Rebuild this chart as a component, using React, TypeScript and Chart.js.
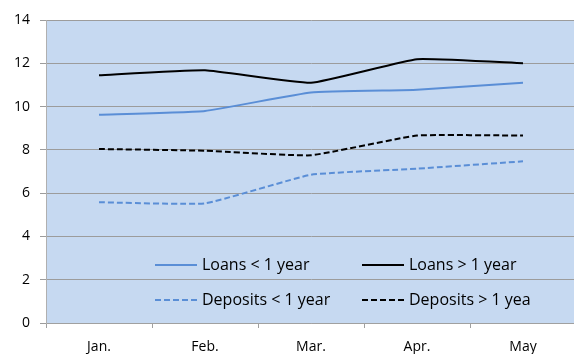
import React, { useEffect, useRef } from "react";
import { Chart, registerables } from "chart.js";

Chart.register(...registerables);

const categories = ["Jan.", "Feb.", "Mar.", "Apr.", "May"];
const loansShort = [9.62, 9.8, 10.65, 10.78, 11.1];
const loansLong = [11.45, 11.68, 11.1, 12.19, 12.0];
const depositsShort = [5.58, 5.53, 6.85, 7.13, 7.47];
const depositsLong = [8.04, 7.96, 7.75, 8.66, 8.66];
const seriesLabels = ["Loans < 1 year", "Loans > 1 year", "Deposits < 1 year", "Deposits > 1 yea"];

const BLUE = "#5A8ED6";
const FONT = "'Open Sans', Lato, sans-serif";

const plotBg = {
  id: "plotBg",
  beforeDraw(chart: any) {
    const { ctx, chartArea: a } = chart;
    ctx.save();
    ctx.fillStyle = "#C6D9F1";
    ctx.fillRect(a.left, a.top, a.right - a.left, a.bottom - a.top);
    ctx.restore();
  },
};

const insideLegend = {
  id: "insideLegend",
  afterDatasetsDraw(chart: any) {
    const { ctx, chartArea: a } = chart;
    const cols = [a.left + 109, a.left + 316];
    const rows = [a.top + 245, a.top + 280];
    ctx.save();
    ctx.font = `16px ${FONT}`;
    ctx.textBaseline = "middle";
    ctx.fillStyle = "#000";
    chart.data.datasets.forEach((ds: any, i: number) => {
      const x = cols[i % 2];
      const y = rows[Math.floor(i / 2)];
      ctx.beginPath();
      ctx.strokeStyle = ds.borderColor;
      ctx.lineWidth = 2;
      ctx.setLineDash(ds.borderDash || []);
      ctx.moveTo(x, y);
      ctx.lineTo(x + 42, y);
      ctx.stroke();
      ctx.setLineDash([]);
      ctx.fillText(ds.label, x + 47, y + 0.5);
    });
    ctx.restore();
  },
};

export default function App() {
  const ref = useRef<HTMLCanvasElement>(null);
  useEffect(() => {
    document.body.style.margin = "0";
    document.body.style.overflow = "hidden";
    const mk = (label: string, data: number[], color: string, dash?: number[]) => ({
      label,
      data,
      borderColor: color,
      backgroundColor: color,
      borderWidth: 2,
      borderDash: dash,
      pointRadius: 0,
      tension: 0.12,
      fill: false,
    });
    const chart = new Chart(ref.current!, {
      type: "line",
      data: {
        labels: categories,
        datasets: [
          mk(seriesLabels[0], loansShort, BLUE),
          mk(seriesLabels[1], loansLong, "#000000"),
          mk(seriesLabels[2], depositsShort, BLUE, [6, 3]),
          mk(seriesLabels[3], depositsLong, "#000000", [6, 3]),
        ],
      },
      options: {
        animation: false,
        responsive: false,
        maintainAspectRatio: false,
        layout: { padding: { top: 20, right: 4, left: 0, bottom: 0 } },
        plugins: { legend: { display: false }, tooltip: { enabled: false } },
        scales: {
          x: {
            offset: true,
            grid: { offset: true, drawOnChartArea: false, drawTicks: true, tickLength: 5, color: "#A0A0A0" },
            border: { display: true, color: "#A0A0A0", width: 1 },
            ticks: { color: "#000", font: { family: FONT, size: 14 }, padding: 11, maxRotation: 0 },
            afterFit(s: any) { s.height = 31; },
          },
          y: {
            min: 0,
            max: 14,
            ticks: { stepSize: 2, color: "#000", font: { family: FONT, size: 14 }, padding: 10 },
            grid: { color: "#9C9C9C", lineWidth: 1, tickLength: 6, drawTicks: true },
            border: { display: true, color: "#B0B0B0", width: 1 },
            afterFit(s: any) { s.width = 46; },
          },
        },
      },
      plugins: [plotBg, insideLegend],
    });
    return () => chart.destroy();
  }, []);
  return (
    <div style={{ position: "absolute", left: 0, top: 0, width: 580, height: 354 }}>
      <canvas ref={ref} width={580} height={354} style={{ width: 580, height: 354, display: "block" }} />
    </div>
  );
}
